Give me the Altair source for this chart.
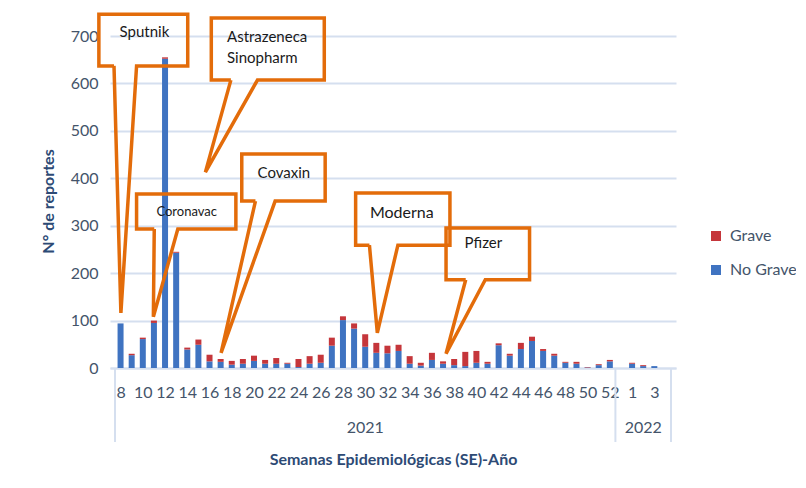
import json
import altair as alt
import pandas as pd

# ---------------- data ----------------
weeks = [str(w) for w in range(8, 53)] + ["", "1", "2", "3", ""]
years = ["2021"] * 45 + ["2022"] * 5
no_grave = [94, 27, 61, 95, 652, 243, 39, 49, 14, 13,
            7, 9, 15, 9, 9, 9, 2, 9, 11, 47,
            101, 83, 45, 32, 31, 36, 9, 5, 17, 9,
            6, 4, 11, 9, 48, 26, 40, 57, 36, 26,
            11, 9, 1, 6, 14,
            0, 9, 4, 4, 0]
grave = [0, 3, 3, 5, 3, 2, 4, 11, 14, 6,
         8, 10, 11, 8, 12, 2, 17, 16, 17, 17,
         8, 11, 26, 21, 16, 13, 16, 6, 15, 5,
         13, 30, 25, 4, 4, 4, 13, 9, 4, 4,
         2, 4, 1, 2, 3,
         0, 2, 2, 0, 0]
series = ["Grave", "No Grave"]

# callouts: box in (week index, reports), tail bases, tip, text lines
callout_names = ["Sputnik", "Astrazeneca", "Coronavac", "Covaxin", "Moderna", "Pfizer"]
callout_box_x0 = [-1.95, 8.16, 1.44, 10.90, 21.14, 29.27]
callout_box_x1 = [6.04, 18.32, 10.37, 18.40, 29.62, 36.78]
callout_box_y0 = [637, 607, 293, 352, 259, 186]
callout_box_y1 = [746, 738, 367, 451, 369, 295]
callout_tail_a = [-0.59, 9.92, 3.03, 12.13, 22.38, 31.04]
callout_tail_b = [1.44, 12.31, 5.15, 13.90, 24.94, 32.80]
callout_tip_x = [0.03, 7.63, 2.95, 9.04, 23.09, 29.27]
callout_tip_y = [116, 413, 108, 32, 74, 30]
callout_text = ["Sputnik", "Astrazeneca", "Sinopharm", "Coronavac", "Covaxin", "Moderna", "Pfizer"]
callout_text_x = [2.15, 9.57, 9.57, 5.95, 14.69, 25.29, 32.63]
callout_text_y = [708, 698, 654, 329, 411, 327, 264]
callout_text_size = [15, 15, 15, 13, 15, 16, 15]
callout_text_align = ["center", "left", "left", "center", "center", "center", "center"]

# ---------------- style ----------------
FONT = "Lato"
BLUE = "#3F73C1"
RED = "#C5363B"
ORANGE = "#E36C0A"
GRID = "#D5DFEF"
LABEL = "#44546A"
TITLE = "#2D4A75"

n = len(weeks)
rows = []
for i, (ng, g) in enumerate(zip(no_grave, grave)):
    if ng:
        rows.append(dict(idx=i, series="No Grave", value=ng, ord=0))
    if g:
        rows.append(dict(idx=i, series="Grave", value=g, ord=1))
bars_df = pd.DataFrame(rows)

xscale = alt.Scale(domain=[-0.5, n - 0.5], nice=False, zero=False)
yscale = alt.Scale(domain=[0, 700], nice=False)

bars = alt.Chart(bars_df).mark_bar(width=6).encode(
    x=alt.X("idx:Q", scale=xscale,
            axis=alt.Axis(values=list(range(0, n, 2)), tickCount=n,
                          labelExpr=f"{json.dumps(weeks)}[datum.value]",
                          title="Semanas Epidemiológicas (SE)-Año",
                          grid=False, ticks=False,
                          domainColor=GRID, domainWidth=2,
                          labelFontSize=16, labelColor=LABEL, labelPadding=16,
                          labelFont=FONT, labelOverlap=False, labelFlush=False,
                          labelSeparation=0,
                          titleFont=FONT, titleFontSize=16, titleColor=TITLE,
                          titleFontWeight="bold", titleY=91, titleBaseline="middle")),
    y=alt.Y("value:Q", stack="zero", scale=yscale,
            axis=alt.Axis(values=list(range(0, 701, 100)), tickCount=8, title="N° de reportes",
                          domain=False, ticks=False, grid=True,
                          gridColor=GRID, gridWidth=2,
                          labelFontSize=16, labelColor=LABEL, labelPadding=12,
                          labelFont=FONT,
                          titleFont=FONT, titleFontSize=16, titleColor=TITLE,
                          titleFontWeight="bold", titleX=-62, titleY=165,
                          titleAngle=270, titleBaseline="middle", titleAlign="center")),
    color=alt.Color("series:N",
                    scale=alt.Scale(domain=series, range=[RED, BLUE]),
                    legend=alt.Legend(title=None, orient="none", legendX=598, legendY=192,
                                      symbolType="square", symbolSize=100,
                                      symbolStrokeWidth=0,
                                      labelFontSize=16, labelColor=LABEL, labelFont=FONT,
                                      rowPadding=18, labelOffset=6)),
    order=alt.Order("ord:Q"),
)

# year groups below axis
groups = []
for y in dict.fromkeys(years):
    idxs = [i for i, v in enumerate(years) if v == y]
    groups.append((y, idxs[0] - 0.5, idxs[-1] + 0.5))
bounds = sorted(set([g[1] for g in groups] + [g[2] for g in groups]))
div_df = pd.DataFrame({"x": bounds, "y": [0] * len(bounds), "y2": [-156] * len(bounds)})
year_df = pd.DataFrame({"x": [(g[1] + g[2]) / 2 for g in groups],
                        "y": [-127] * len(groups),
                        "t": [g[0] for g in groups]})

dividers = alt.Chart(div_df).mark_rule(color=GRID, strokeWidth=2).encode(
    x=alt.X("x:Q", scale=xscale), y=alt.Y("y:Q", scale=yscale), y2="y2:Q")
year_text = alt.Chart(year_df).mark_text(font=FONT, fontSize=16, color=LABEL,
                                         baseline="middle").encode(
    x=alt.X("x:Q", scale=xscale), y=alt.Y("y:Q", scale=yscale), text="t:N")

# callout outlines
pts = []
for k, name in enumerate(callout_names):
    x0, x1 = callout_box_x0[k], callout_box_x1[k]
    yb, yt = callout_box_y0[k], callout_box_y1[k]
    a, b = callout_tail_a[k], callout_tail_b[k]
    path = [(a, yb), (x0, yb), (x0, yt), (x1, yt), (x1, yb), (b, yb),
            (callout_tip_x[k], callout_tip_y[k]), (a, yb)]
    for j, (px, py) in enumerate(path):
        pts.append(dict(id=name, o=j, x=px, y=py))
call_df = pd.DataFrame(pts)
callouts = alt.Chart(call_df).mark_line(color=ORANGE, strokeWidth=3.5,
                                        strokeJoin="miter", interpolate="linear").encode(
    x=alt.X("x:Q", scale=xscale), y=alt.Y("y:Q", scale=yscale),
    detail="id:N", order="o:Q")

txt_df = pd.DataFrame({"x": callout_text_x, "y": callout_text_y, "t": callout_text,
                       "s": callout_text_size, "a": callout_text_align})
texts = []
for al in ["left", "center"]:
    texts.append(alt.Chart(txt_df[txt_df.a == al]).mark_text(
        font=FONT, color="#1A1A1A", align=al, baseline="middle").encode(
        x=alt.X("x:Q", scale=xscale), y=alt.Y("y:Q", scale=yscale),
        text="t:N", size=alt.Size("s:Q", scale=None, legend=None)))

chart = alt.layer(bars, dividers, callouts, year_text, *texts).properties(
    width=566, height=332,
    autosize=alt.AutoSizeParams(type="none"),
    padding={"left": 102, "top": 28, "right": 120, "bottom": 110},
    background="white",
).configure_view(stroke=None).configure_axisX(labelOverlap=False)

chart.save("out.html", embed_options={"renderer": "svg", "actions": False})
